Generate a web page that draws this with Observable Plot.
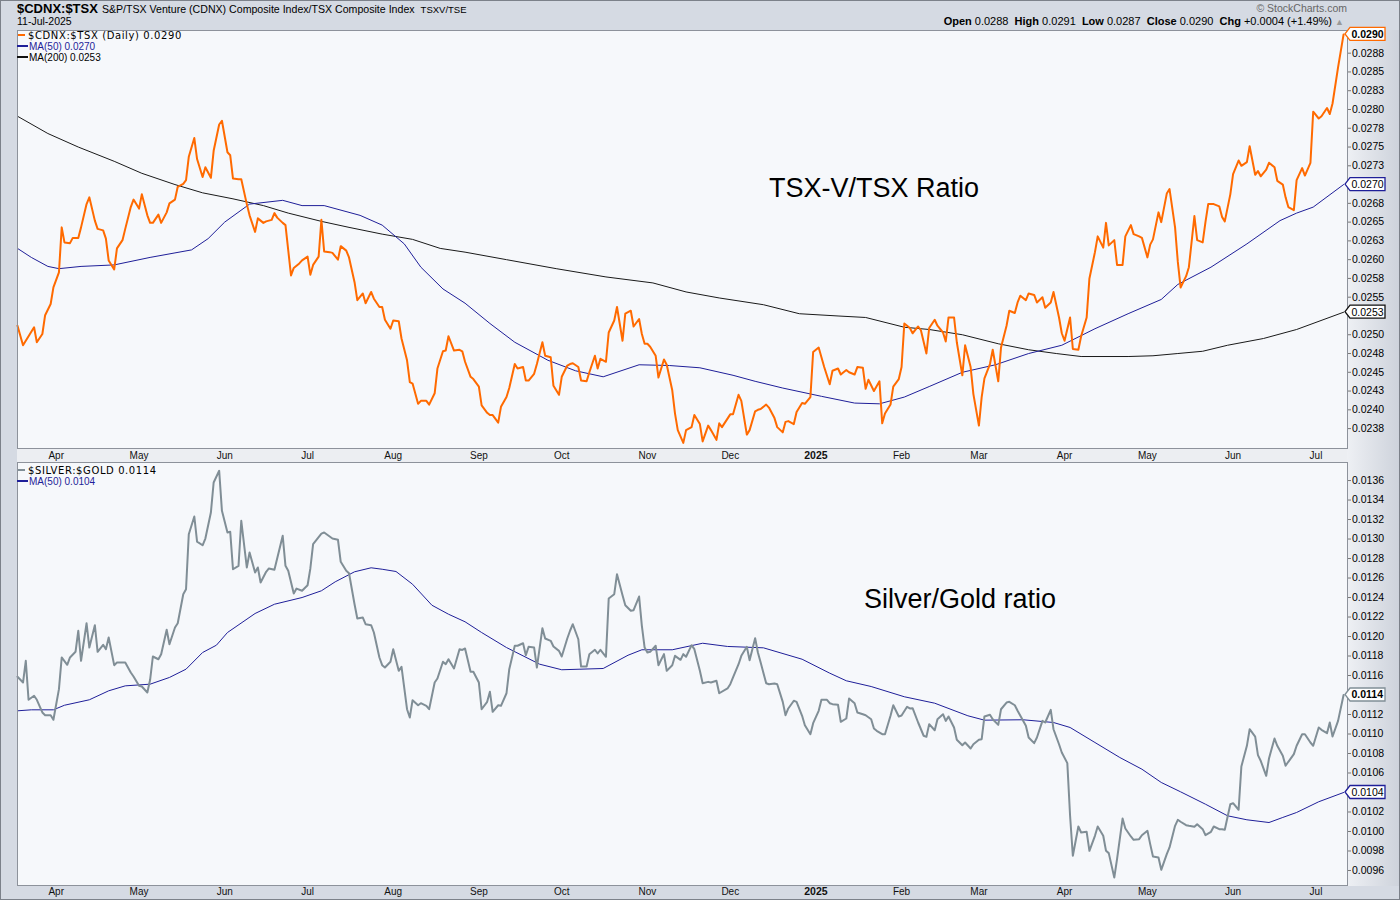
<!DOCTYPE html>
<html><head><meta charset="utf-8">
<script src="https://cdn.jsdelivr.net/npm/d3@7"></script>
<script src="https://cdn.jsdelivr.net/npm/@observablehq/plot@0.6"></script>
<style>
body{margin:0;background:#fff;}
#wrap{position:relative;width:1400px;height:900px;background:#d5dae3;overflow:hidden;font-family:"Liberation Sans",Arial,sans-serif;color:#000;}
.abs{position:absolute;white-space:nowrap;}
.leg{position:absolute;white-space:nowrap;font-size:10px;line-height:11px;}
.dash{display:inline-block;width:8px;height:2px;vertical-align:middle;margin-right:3px;position:relative;top:-1px;}
.anno{position:absolute;white-space:nowrap;font-size:27px;font-family:"Liberation Sans",Arial,sans-serif;color:#000;}
#border{position:absolute;left:0;top:0;width:1400px;height:900px;box-sizing:border-box;border:1px solid #7c818a;pointer-events:none;}
</style></head>
<body><div id="wrap">
<div class="abs" style="left:1347px;top:30px;width:53px;height:856px;background:linear-gradient(to right,#eef0f4,#cdd2db);"></div>
<div class="abs" style="left:17px;top:448px;width:1330px;height:14px;background:#eceef2;"></div>
<div class="abs" style="left:17px;top:1px;font-size:13px;line-height:16px;"><b style="font-size:13px">$CDNX:$TSX</b><span style="font-size:10.6px;margin-left:4px">S&amp;P/TSX Venture (CDNX) Composite Index/TSX Composite Index</span><span style="font-size:9.5px;margin-left:6px">TSXV/TSE</span></div>
<div class="abs" style="left:17px;top:15px;font-size:10.5px;line-height:13px;">11-Jul-2025</div>
<div class="abs" style="right:53px;top:2px;font-size:10.5px;line-height:13px;color:#666;">&#169; StockCharts.com</div>
<div class="abs" style="right:56px;top:15px;font-size:11px;line-height:13px;"><b>Open</b> 0.0288&nbsp; <b>High</b> 0.0291&nbsp; <b>Low</b> 0.0287&nbsp; <b>Close</b> 0.0290&nbsp; <b>Chg</b> +0.0004 (+1.49%) <span style="color:#999;font-size:9px">&#9650;</span></div>
<div id="c1" class="abs" style="left:0;top:30px;"></div>
<div id="c2" class="abs" style="left:0;top:462px;"></div>
<div class="leg" style="left:18px;top:30px;font-family:'DejaVu Sans',sans-serif;letter-spacing:0.6px;"><span class="dash" style="background:#ff6a00;width:7px"></span>$CDNX:$TSX (Daily) 0.0290</div>
<div class="leg" style="left:17px;top:41px;color:#1f1f99;"><span class="dash" style="background:#1f1f99;width:11px;margin-right:1px"></span>MA(50) 0.0270</div>
<div class="leg" style="left:17px;top:52px;"><span class="dash" style="background:#111;width:11px;margin-right:1px"></span>MA(200) 0.0253</div>
<div class="leg" style="left:18px;top:465px;font-family:'DejaVu Sans',sans-serif;letter-spacing:0.6px;"><span class="dash" style="background:#808e96;width:7px"></span>$SILVER:$GOLD 0.0114</div>
<div class="leg" style="left:17px;top:476px;color:#1f1f99;"><span class="dash" style="background:#1f1f99;width:11px;margin-right:1px"></span>MA(50) 0.0104</div>
<div class="anno" style="left:769px;top:173px;">TSX-V/TSX Ratio</div>
<div class="anno" style="left:864px;top:584px;">Silver/Gold ratio</div>
<div id="border"></div>
</div>
<script>
// ---------- DATA ----------
const xStart = "2024-03-18";
const xEnd = "2025-07-12T10:00:00Z";

const monthTickDates = ["2024-04-01","2024-05-01","2024-06-01","2024-07-01","2024-08-01","2024-09-01","2024-10-01","2024-11-01","2024-12-01","2025-01-01","2025-02-01","2025-03-01","2025-04-01","2025-05-01","2025-06-01","2025-07-01"];
const monthTickLabels = ["Apr","May","Jun","Jul","Aug","Sep","Oct","Nov","Dec","2025","Feb","Mar","Apr","May","Jun","Jul"];

const topTickValues = [0.02375,0.024,0.02425,0.0245,0.02475,0.025,0.02525,0.0255,0.02575,0.026,0.02625,0.0265,0.02675,0.027,0.02725,0.0275,0.02775,0.028,0.02825,0.0285,0.02875];
const topTickLabels = ["0.0238","0.0240","0.0243","0.0245","0.0248","0.0250","0.0253","0.0255","0.0258","0.0260","0.0263","0.0265","0.0268","0.0270","0.0273","0.0275","0.0278","0.0280","0.0283","0.0285","0.0288"];
const topDomain = [0.023485, 0.029052];

const botTickValues = [0.0096,0.0098,0.0100,0.0102,0.0104,0.0106,0.0108,0.0110,0.0112,0.0114,0.0116,0.0118,0.0120,0.0122,0.0124,0.0126,0.0128,0.0130,0.0132,0.0134,0.0136];
const botTickLabels = ["0.0096","0.0098","0.0100","0.0102","0.0104","0.0106","0.0108","0.0110","0.0112","0.0114","0.0116","0.0118","0.0120","0.0122","0.0124","0.0126","0.0128","0.0130","0.0132","0.0134","0.0136"];
const botDomain = [0.009446, 0.013785];

// $CDNX:$TSX daily ratio
const tsxRatio = [
["2024-03-18",0.02512],["2024-03-20",0.02486],["2024-03-24",0.02510],["2024-03-25",0.02490],["2024-03-27",0.02501],["2024-03-28",0.02526],["2024-03-30",0.02541],["2024-03-31",0.02563],
["2024-04-02",0.02583],["2024-04-03",0.02643],["2024-04-04",0.02623],["2024-04-06",0.02622],["2024-04-07",0.02629],["2024-04-09",0.02629],["2024-04-10",0.02643],["2024-04-12",0.02674],["2024-04-13",0.02683],["2024-04-15",0.02652],["2024-04-16",0.02641],["2024-04-18",0.02639],["2024-04-19",0.02628],["2024-04-20",0.02599],["2024-04-22",0.02587],["2024-04-23",0.02615],["2024-04-25",0.02626],["2024-04-26",0.02641],["2024-04-28",0.02670],["2024-04-29",0.02680],
["2024-05-01",0.02668],["2024-05-02",0.02687],["2024-05-04",0.02659],["2024-05-05",0.02649],["2024-05-06",0.02649],["2024-05-08",0.02660],["2024-05-09",0.02649],["2024-05-11",0.02663],["2024-05-12",0.02675],["2024-05-14",0.02680],["2024-05-15",0.02697],["2024-05-17",0.02701],["2024-05-18",0.02706],["2024-05-19",0.02737],["2024-05-21",0.02762],["2024-05-22",0.02734],["2024-05-24",0.02710],["2024-05-25",0.02723],["2024-05-27",0.02709],["2024-05-28",0.02745],["2024-05-30",0.02780],["2024-05-31",0.02785],
["2024-06-02",0.02743],["2024-06-03",0.02739],["2024-06-04",0.02708],["2024-06-06",0.02707],["2024-06-07",0.02707],["2024-06-09",0.02674],["2024-06-10",0.02659],["2024-06-12",0.02637],["2024-06-13",0.02655],["2024-06-15",0.02649],["2024-06-16",0.02651],["2024-06-18",0.02653],["2024-06-19",0.02662],["2024-06-20",0.02656],["2024-06-22",0.02649],["2024-06-23",0.02646],["2024-06-25",0.02579],["2024-06-26",0.02589],["2024-06-28",0.02595],["2024-06-29",0.02599],
["2024-07-01",0.02604],["2024-07-02",0.02580],["2024-07-03",0.02593],["2024-07-05",0.02604],["2024-07-06",0.02653],["2024-07-07",0.02611],["2024-07-09",0.02610],["2024-07-10",0.02609],["2024-07-12",0.02600],["2024-07-13",0.02618],["2024-07-15",0.02612],["2024-07-16",0.02603],["2024-07-18",0.02570],["2024-07-19",0.02546],["2024-07-21",0.02555],["2024-07-22",0.02542],["2024-07-24",0.02557],["2024-07-25",0.02548],["2024-07-27",0.02537],["2024-07-28",0.02537],["2024-07-29",0.02520],["2024-07-31",0.02508],
["2024-08-01",0.02519],["2024-08-03",0.02518],["2024-08-04",0.02495],["2024-08-06",0.02466],["2024-08-07",0.02437],["2024-08-08",0.02435],["2024-08-10",0.02408],["2024-08-11",0.02412],["2024-08-13",0.02412],["2024-08-14",0.02407],["2024-08-16",0.02422],["2024-08-17",0.02455],["2024-08-19",0.02478],["2024-08-20",0.02479],["2024-08-21",0.02498],["2024-08-23",0.02479],["2024-08-25",0.02480],["2024-08-26",0.02478],["2024-08-27",0.02464],["2024-08-29",0.02444],["2024-08-30",0.02441],
["2024-09-01",0.02431],["2024-09-02",0.02406],["2024-09-04",0.02396],["2024-09-05",0.02393],["2024-09-06",0.02393],["2024-09-08",0.02383],["2024-09-09",0.02404],["2024-09-11",0.02417],["2024-09-12",0.02429],["2024-09-14",0.02461],["2024-09-15",0.02455],["2024-09-17",0.02457],["2024-09-18",0.02439],["2024-09-19",0.02439],["2024-09-21",0.02448],["2024-09-22",0.02461],["2024-09-24",0.02490],["2024-09-25",0.02472],["2024-09-27",0.02470],["2024-09-28",0.02432],["2024-09-30",0.02420],
["2024-10-01",0.02444],["2024-10-03",0.02459],["2024-10-04",0.02461],["2024-10-05",0.02462],["2024-10-07",0.02457],["2024-10-08",0.02439],["2024-10-10",0.02438],["2024-10-11",0.02450],["2024-10-13",0.02472],["2024-10-14",0.02455],["2024-10-15",0.02468],["2024-10-17",0.02464],["2024-10-18",0.02503],["2024-10-20",0.02519],["2024-10-21",0.02537],["2024-10-23",0.02492],["2024-10-24",0.02528],["2024-10-26",0.02532],["2024-10-27",0.02511],["2024-10-29",0.02521],["2024-10-30",0.02501],["2024-10-31",0.02488],
["2024-11-01",0.02488],["2024-11-02",0.02484],["2024-11-04",0.02472],["2024-11-05",0.02443],["2024-11-07",0.02467],["2024-11-08",0.02460],["2024-11-10",0.02426],["2024-11-11",0.02395],["2024-11-12",0.02373],["2024-11-14",0.02356],["2024-11-15",0.02373],["2024-11-17",0.02377],["2024-11-18",0.02393],["2024-11-20",0.02381],["2024-11-21",0.02358],["2024-11-23",0.02379],["2024-11-24",0.02373],["2024-11-26",0.02360],["2024-11-27",0.02382],["2024-11-28",0.02377],
["2024-12-01",0.02394],["2024-12-02",0.02394],["2024-12-04",0.02420],["2024-12-05",0.02412],["2024-12-07",0.02367],["2024-12-08",0.02373],["2024-12-10",0.02398],["2024-12-11",0.02400],["2024-12-12",0.02401],["2024-12-14",0.02407],["2024-12-15",0.02403],["2024-12-17",0.02389],["2024-12-18",0.02377],["2024-12-20",0.02370],["2024-12-21",0.02384],["2024-12-22",0.02385],["2024-12-24",0.02381],["2024-12-25",0.02397],["2024-12-27",0.02409],["2024-12-28",0.02408],["2024-12-30",0.02417],["2024-12-31",0.02477],
["2025-01-02",0.02483],["2025-01-03",0.02470],["2025-01-04",0.02457],["2025-01-06",0.02434],["2025-01-07",0.02452],["2025-01-09",0.02455],["2025-01-10",0.02447],["2025-01-12",0.02453],["2025-01-13",0.02450],["2025-01-15",0.02447],["2025-01-16",0.02457],["2025-01-18",0.02456],["2025-01-19",0.02428],["2025-01-20",0.02440],["2025-01-22",0.02425],["2025-01-24",0.02438],["2025-01-25",0.02382],["2025-01-26",0.02395],["2025-01-28",0.02407],["2025-01-29",0.02431],["2025-01-31",0.02441],
["2025-02-01",0.02457],["2025-02-02",0.02515],["2025-02-04",0.02509],["2025-02-05",0.02502],["2025-02-07",0.02511],["2025-02-08",0.02506],["2025-02-10",0.02475],["2025-02-11",0.02509],["2025-02-13",0.02520],["2025-02-14",0.02512],["2025-02-16",0.02503],["2025-02-17",0.02491],["2025-02-18",0.02523],["2025-02-20",0.02523],["2025-02-21",0.02490],["2025-02-23",0.02446],["2025-02-24",0.02486],["2025-02-26",0.02457],["2025-02-27",0.02421],
["2025-03-01",0.02379],["2025-03-02",0.02417],["2025-03-03",0.02442],["2025-03-05",0.02461],["2025-03-06",0.02480],["2025-03-08",0.02438],["2025-03-09",0.02483],["2025-03-11",0.02512],["2025-03-12",0.02532],["2025-03-14",0.02529],["2025-03-15",0.02543],["2025-03-16",0.02552],["2025-03-18",0.02546],["2025-03-19",0.02555],["2025-03-21",0.02553],["2025-03-22",0.02543],["2025-03-24",0.02550],["2025-03-25",0.02536],["2025-03-27",0.02543],["2025-03-28",0.02557],["2025-03-30",0.02523],["2025-03-31",0.02502],
["2025-04-01",0.02492],["2025-04-03",0.02523],["2025-04-04",0.02481],["2025-04-06",0.02480],["2025-04-07",0.02498],["2025-04-09",0.02523],["2025-04-10",0.02575],["2025-04-12",0.02610],["2025-04-13",0.02631],["2025-04-15",0.02616],["2025-04-16",0.02649],["2025-04-17",0.02619],["2025-04-19",0.02626],["2025-04-20",0.02593],["2025-04-22",0.02593],["2025-04-23",0.02631],["2025-04-25",0.02646],["2025-04-26",0.02634],["2025-04-28",0.02631],["2025-04-29",0.02629],
["2025-05-01",0.02603],["2025-05-02",0.02620],["2025-05-03",0.02627],["2025-05-05",0.02663],["2025-05-06",0.02650],["2025-05-08",0.02688],["2025-05-09",0.02694],["2025-05-11",0.02643],["2025-05-12",0.02597],["2025-05-13",0.02563],["2025-05-15",0.02578],["2025-05-16",0.02590],["2025-05-18",0.02658],["2025-05-19",0.02626],["2025-05-21",0.02623],["2025-05-22",0.02650],["2025-05-23",0.02674],["2025-05-25",0.02674],["2025-05-27",0.02671],["2025-05-28",0.02657],["2025-05-29",0.02651],["2025-05-31",0.02687],
["2025-06-01",0.02714],["2025-06-03",0.02732],["2025-06-04",0.02725],["2025-06-06",0.02730],["2025-06-07",0.02751],["2025-06-09",0.02713],["2025-06-10",0.02718],["2025-06-11",0.02711],["2025-06-13",0.02720],["2025-06-14",0.02729],["2025-06-16",0.02723],["2025-06-17",0.02705],["2025-06-19",0.02700],["2025-06-20",0.02683],["2025-06-21",0.02670],["2025-06-23",0.02666],["2025-06-24",0.02706],["2025-06-26",0.02722],["2025-06-27",0.02712],["2025-06-29",0.02729],["2025-06-30",0.02797],
["2025-07-02",0.02788],["2025-07-03",0.02791],["2025-07-05",0.02802],["2025-07-06",0.02794],["2025-07-07",0.02808],["2025-07-09",0.02856],["2025-07-11",0.02900]
];

const tsxMA50 = [
["2024-03-18",0.02615],["2024-03-23",0.02603],["2024-03-29",0.02591],["2024-04-02",0.02588],["2024-04-10",0.02591],["2024-04-22",0.02593],["2024-05-05",0.02603],["2024-05-14",0.02609],["2024-05-20",0.02613],["2024-05-26",0.02628],["2024-06-01",0.02650],["2024-06-10",0.02674],["2024-06-22",0.02679],["2024-06-29",0.02672],["2024-07-07",0.02672],["2024-07-20",0.02659],["2024-07-28",0.02646],["2024-08-05",0.02621],["2024-08-11",0.02590],["2024-08-19",0.02561],["2024-08-27",0.02542],["2024-09-05",0.02515],["2024-09-14",0.02490],["2024-09-26",0.02466],["2024-10-06",0.02452],["2024-10-16",0.02444],["2024-10-29",0.02460],["2024-11-09",0.02459],["2024-11-20",0.02456],["2024-12-02",0.02446],["2024-12-10",0.02438],["2024-12-20",0.02429],["2025-01-03",0.02418],["2025-01-15",0.02409],["2025-01-24",0.02408],["2025-02-02",0.02417],["2025-02-11",0.02431],["2025-02-23",0.02450],["2025-03-07",0.02460],["2025-03-19",0.02475],["2025-03-31",0.02486],["2025-04-12",0.02508],["2025-04-24",0.02528],["2025-05-06",0.02547],["2025-05-12",0.02567],["2025-05-24",0.02590],["2025-06-06",0.02621],["2025-06-18",0.02652],["2025-06-24",0.02662],["2025-06-30",0.02670],["2025-07-11",0.02700]
];

const tsxMA200 = [
["2024-03-18",0.02791],["2024-03-29",0.02768],["2024-04-09",0.02750],["2024-04-22",0.02731],["2024-05-02",0.02715],["2024-05-14",0.02700],["2024-05-24",0.02689],["2024-06-04",0.02681],["2024-06-15",0.02672],["2024-06-24",0.02662],["2024-07-06",0.02651],["2024-07-16",0.02643],["2024-07-28",0.02634],["2024-08-08",0.02627],["2024-08-18",0.02615],["2024-08-27",0.02610],["2024-09-11",0.02600],["2024-09-29",0.02588],["2024-10-17",0.02577],["2024-11-03",0.02569],["2024-11-15",0.02557],["2024-11-27",0.02549],["2024-12-13",0.02540],["2024-12-26",0.02528],["2025-01-09",0.02525],["2025-01-19",0.02523],["2025-02-02",0.02510],["2025-02-11",0.02507],["2025-02-23",0.02500],["2025-03-08",0.02488],["2025-03-19",0.02480],["2025-03-29",0.02475],["2025-04-07",0.02471],["2025-04-24",0.02471],["2025-05-03",0.02472],["2025-05-12",0.02475],["2025-05-21",0.02478],["2025-05-30",0.02486],["2025-06-12",0.02495],["2025-06-24",0.02507],["2025-07-11",0.02530]
];

// $SILVER:$GOLD
const silverGold = [
["2024-03-18",0.011587],["2024-03-20",0.011528],["2024-03-21",0.011751],["2024-03-22",0.011351],["2024-03-24",0.011392],["2024-03-25",0.011351],["2024-03-27",0.011221],["2024-03-28",0.011193],["2024-03-30",0.011193],["2024-03-31",0.011146],
["2024-04-02",0.011460],["2024-04-03",0.011785],["2024-04-05",0.011710],["2024-04-06",0.011785],["2024-04-08",0.011843],["2024-04-09",0.012059],["2024-04-10",0.011751],["2024-04-12",0.012136],["2024-04-13",0.011887],["2024-04-15",0.012116],["2024-04-16",0.011843],["2024-04-18",0.011915],["2024-04-19",0.011870],["2024-04-20",0.011990],["2024-04-22",0.011706],["2024-04-23",0.011733],["2024-04-26",0.011733],["2024-04-28",0.011631],["2024-04-29",0.011590],
["2024-05-01",0.011494],["2024-05-02",0.011487],["2024-05-04",0.011426],["2024-05-05",0.011556],["2024-05-06",0.011795],["2024-05-08",0.011767],["2024-05-09",0.011819],["2024-05-11",0.012069],["2024-05-12",0.011921],["2024-05-14",0.012092],["2024-05-15",0.012136],["2024-05-17",0.012434],["2024-05-18",0.012485],["2024-05-19",0.013049],["2024-05-21",0.013231],["2024-05-22",0.012974],["2024-05-24",0.012936],["2024-05-25",0.013005],["2024-05-27",0.013272],["2024-05-28",0.013580],["2024-05-30",0.013700],["2024-05-31",0.013289],
["2024-06-02",0.013067],["2024-06-03",0.013074],["2024-06-04",0.012690],["2024-06-06",0.012725],["2024-06-07",0.013187],["2024-06-09",0.012708],["2024-06-10",0.012862],["2024-06-12",0.012656],["2024-06-13",0.012708],["2024-06-14",0.012554],["2024-06-16",0.012664],["2024-06-17",0.012698],["2024-06-19",0.012684],["2024-06-22",0.013033],["2024-06-23",0.012725],["2024-06-24",0.012674],["2024-06-26",0.012441],["2024-06-27",0.012492],["2024-06-29",0.012469],
["2024-07-01",0.012526],["2024-07-02",0.012698],["2024-07-03",0.012947],["2024-07-06",0.013056],["2024-07-07",0.013067],["2024-07-09",0.013026],["2024-07-10",0.013005],["2024-07-12",0.012992],["2024-07-13",0.012766],["2024-07-15",0.012674],["2024-07-16",0.012649],["2024-07-18",0.012331],["2024-07-19",0.012185],["2024-07-21",0.012195],["2024-07-22",0.012126],["2024-07-24",0.012116],["2024-07-25",0.012041],["2024-07-27",0.011785],["2024-07-28",0.011706],["2024-07-29",0.011682],["2024-07-31",0.011741],
["2024-08-01",0.011870],["2024-08-03",0.011648],["2024-08-04",0.011689],["2024-08-06",0.011254],["2024-08-07",0.011169],["2024-08-08",0.011347],["2024-08-10",0.011295],["2024-08-11",0.011316],["2024-08-13",0.011289],["2024-08-14",0.011254],["2024-08-16",0.011528],["2024-08-17",0.011569],["2024-08-19",0.011741],["2024-08-20",0.011716],["2024-08-21",0.011767],["2024-08-23",0.011672],["2024-08-25",0.011870],["2024-08-26",0.011862],["2024-08-27",0.011877],["2024-08-29",0.011638],["2024-08-30",0.011638],
["2024-09-01",0.011528],["2024-09-02",0.011254],["2024-09-04",0.011330],["2024-09-05",0.011433],["2024-09-06",0.011228],["2024-09-08",0.011295],["2024-09-09",0.011289],["2024-09-11",0.011418],["2024-09-12",0.011665],["2024-09-14",0.011905],["2024-09-15",0.011905],["2024-09-17",0.011931],["2024-09-18",0.011808],["2024-09-19",0.011894],["2024-09-21",0.011887],["2024-09-22",0.011682],["2024-09-24",0.012085],["2024-09-25",0.011980],["2024-09-27",0.011956],["2024-09-28",0.011898],["2024-09-30",0.011853],
["2024-10-01",0.011795],["2024-10-03",0.011980],["2024-10-04",0.012059],["2024-10-05",0.012126],["2024-10-07",0.011972],["2024-10-08",0.011692],["2024-10-10",0.011692],["2024-10-11",0.011819],["2024-10-13",0.011864],["2024-10-14",0.011826],["2024-10-15",0.011864],["2024-10-17",0.011792],["2024-10-18",0.012390],["2024-10-20",0.012434],["2024-10-21",0.012639],["2024-10-23",0.012424],["2024-10-24",0.012321],["2024-10-26",0.012264],["2024-10-27",0.012270],["2024-10-29",0.012410],["2024-10-30",0.012110],["2024-10-31",0.011887],
["2024-11-01",0.011836],["2024-11-02",0.011843],["2024-11-04",0.011905],["2024-11-05",0.011706],["2024-11-07",0.011819],["2024-11-08",0.011648],["2024-11-10",0.011706],["2024-11-11",0.011802],["2024-11-13",0.011761],["2024-11-14",0.011819],["2024-11-15",0.011792],["2024-11-17",0.011911],["2024-11-18",0.011870],["2024-11-20",0.011648],["2024-11-21",0.011521],["2024-11-23",0.011535],["2024-11-24",0.011528],["2024-11-26",0.011546],["2024-11-27",0.011418],["2024-11-30",0.011467],
["2024-12-01",0.011511],["2024-12-02",0.011580],["2024-12-04",0.011716],["2024-12-05",0.011802],["2024-12-07",0.011894],["2024-12-08",0.011757],["2024-12-10",0.011983],["2024-12-11",0.011836],["2024-12-12",0.011733],["2024-12-14",0.011521],["2024-12-15",0.011511],["2024-12-17",0.011518],["2024-12-18",0.011511],["2024-12-20",0.011330],["2024-12-21",0.011193],["2024-12-22",0.011262],["2024-12-24",0.011341],["2024-12-25",0.011330],["2024-12-27",0.011187],["2024-12-28",0.011090],["2024-12-30",0.010998],["2024-12-31",0.011111],
["2025-01-02",0.011238],["2025-01-03",0.011351],["2025-01-05",0.011351],["2025-01-06",0.011316],["2025-01-07",0.011306],["2025-01-09",0.011300],["2025-01-10",0.011125],["2025-01-12",0.011159],["2025-01-13",0.011364],["2025-01-15",0.011316],["2025-01-16",0.011221],["2025-01-18",0.011203],["2025-01-19",0.011193],["2025-01-21",0.011152],["2025-01-22",0.011056],["2025-01-23",0.011033],["2025-01-25",0.010998],["2025-01-26",0.010998],["2025-01-28",0.011187],["2025-01-29",0.011295],["2025-01-31",0.011180],
["2025-02-01",0.011190],["2025-02-03",0.011279],["2025-02-04",0.011262],["2025-02-05",0.011265],["2025-02-07",0.011118],["2025-02-09",0.010982],["2025-02-10",0.010971],["2025-02-11",0.011101],["2025-02-13",0.011039],["2025-02-14",0.011152],["2025-02-16",0.011203],["2025-02-17",0.011135],["2025-02-18",0.011180],["2025-02-20",0.011067],["2025-02-21",0.010941],["2025-02-23",0.010885],["2025-02-24",0.010913],["2025-02-26",0.010851],["2025-02-27",0.010895],
["2025-03-01",0.010941],["2025-03-02",0.010947],["2025-03-03",0.011180],["2025-03-05",0.011197],["2025-03-06",0.011152],["2025-03-08",0.011094],["2025-03-09",0.011254],["2025-03-11",0.011323],["2025-03-12",0.011330],["2025-03-14",0.011295],["2025-03-15",0.011238],["2025-03-16",0.011187],["2025-03-18",0.011084],["2025-03-19",0.010964],["2025-03-21",0.010906],["2025-03-22",0.010964],["2025-03-24",0.011135],["2025-03-25",0.011118],["2025-03-27",0.011248],["2025-03-28",0.011049],["2025-03-30",0.010895],["2025-03-31",0.010810],
["2025-04-02",0.010701],["2025-04-03",0.010161],["2025-04-04",0.009751],["2025-04-06",0.010051],["2025-04-07",0.009990],["2025-04-09",0.009997],["2025-04-10",0.009802],["2025-04-12",0.009956],["2025-04-13",0.010051],["2025-04-15",0.009956],["2025-04-16",0.009802],["2025-04-17",0.009778],["2025-04-19",0.009528],["2025-04-20",0.009716],["2025-04-22",0.010133],["2025-04-23",0.010031],["2025-04-25",0.009949],["2025-04-26",0.009915],["2025-04-28",0.009921],["2025-04-29",0.009962],
["2025-05-01",0.010007],["2025-05-02",0.009870],["2025-05-03",0.009744],["2025-05-05",0.009733],["2025-05-06",0.009607],["2025-05-08",0.009767],["2025-05-09",0.009836],["2025-05-11",0.010058],["2025-05-12",0.010120],["2025-05-13",0.010100],["2025-05-15",0.010065],["2025-05-16",0.010058],["2025-05-18",0.010048],["2025-05-19",0.010075],["2025-05-21",0.010024],["2025-05-22",0.009962],["2025-05-24",0.009997],["2025-05-25",0.010051],["2025-05-27",0.010024],["2025-05-28",0.010024],["2025-05-29",0.010018],["2025-05-31",0.010280],
["2025-06-01",0.010290],["2025-06-03",0.010223],["2025-06-04",0.010667],["2025-06-06",0.010879],["2025-06-07",0.011049],["2025-06-09",0.010974],["2025-06-10",0.010783],["2025-06-11",0.010725],["2025-06-13",0.010571],["2025-06-14",0.010749],["2025-06-16",0.010954],["2025-06-17",0.010879],["2025-06-19",0.010776],["2025-06-20",0.010674],["2025-06-21",0.010715],["2025-06-23",0.010793],["2025-06-24",0.010879],["2025-06-26",0.010998],["2025-06-27",0.010998],["2025-06-29",0.010913],["2025-06-30",0.010879],
["2025-07-02",0.011067],["2025-07-03",0.011043],["2025-07-05",0.011008],["2025-07-06",0.011118],["2025-07-07",0.010974],["2025-07-09",0.011135],["2025-07-11",0.011400]
];

const silverMA50 = [
["2024-03-18",0.011238],["2024-03-23",0.011248],["2024-03-31",0.011248],["2024-04-04",0.011295],["2024-04-13",0.011351],["2024-04-20",0.011443],["2024-04-26",0.011494],["2024-05-05",0.011511],["2024-05-12",0.011580],["2024-05-18",0.011665],["2024-05-24",0.011836],["2024-05-29",0.011911],["2024-06-02",0.012041],["2024-06-12",0.012236],["2024-06-19",0.012331],["2024-06-29",0.012400],["2024-07-06",0.012469],["2024-07-11",0.012561],["2024-07-18",0.012664],["2024-07-24",0.012705],["2024-07-28",0.012690],["2024-08-02",0.012667],["2024-08-08",0.012536],["2024-08-15",0.012321],["2024-08-21",0.012229],["2024-08-27",0.012151],["2024-09-02",0.012041],["2024-09-11",0.011887],["2024-09-23",0.011716],["2024-10-01",0.011659],["2024-10-16",0.011672],["2024-10-25",0.011808],["2024-10-30",0.011864],["2024-11-10",0.011864],["2024-11-21",0.011931],["2024-11-30",0.011898],["2024-12-13",0.011884],["2024-12-27",0.011767],["2025-01-06",0.011624],["2025-01-12",0.011546],["2025-01-21",0.011487],["2025-02-02",0.011382],["2025-02-13",0.011316],["2025-02-25",0.011187],["2025-03-03",0.011142],["2025-03-17",0.011146],["2025-03-28",0.011118],["2025-04-03",0.011067],["2025-04-12",0.010913],["2025-04-21",0.010759],["2025-04-29",0.010639],["2025-05-06",0.010503],["2025-05-13",0.010407],["2025-05-22",0.010280],["2025-05-30",0.010161],["2025-06-06",0.010120],["2025-06-14",0.010092],["2025-06-19",0.010144],["2025-06-24",0.010195],["2025-07-02",0.010305],["2025-07-11",0.010400]
];

const topBadges = [
  {value: 0.0290, label: "0.0290", color: "#ff6a00", bold: true},
  {value: 0.0270, label: "0.0270", color: "#1f1f99", bold: false},
  {value: 0.0253, label: "0.0253", color: "#111111", bold: false}
];
const botBadges = [
  {value: 0.0114, label: "0.0114", color: "#808e96", bold: true},
  {value: 0.0104, label: "0.0104", color: "#1f1f99", bold: false}
];

// ---------- DRAWING ----------
const W = 1400, ML = 17, MR = 53;
const X = d => new Date(d[0]);
const Y = d => d[1];
const months = monthTickDates.map((d, i) => ({date: new Date(d), label: monthTickLabels[i]}));
const monthsNormal = months.filter(m => !/^\d{4}$/.test(m.label));
const monthsBold = months.filter(m => /^\d{4}$/.test(m.label));
const xScale = {type: "utc", domain: [new Date(xStart), new Date(xEnd)], axis: null};
const baseStyle = {fontFamily: "'Liberation Sans', Arial, sans-serif", fontSize: "10.5px", background: "transparent", color: "#000", overflow: "visible"};

function monthMarks(dy) {
  return [
    Plot.text(monthsNormal, {x: "date", text: "label", frameAnchor: "bottom", lineAnchor: "top", dy, fontSize: 10, fill: "#111"}),
    Plot.text(monthsBold, {x: "date", text: "label", frameAnchor: "bottom", lineAnchor: "top", dy, fontSize: 10.5, fontWeight: "bold", fill: "#111"})
  ];
}

// tick labels hidden under a value badge are left blank (the badge shows the same number)
function tickFormatter(values, labels, badges) {
  const covered = new Set(badges.map(b => b.label));
  const m = new Map(values.map((v, i) => [v, labels[i]]));
  return d => { const s = m.get(d); return covered.has(s) ? "" : s; };
}

function addBadges(svg, items) {
  const ys = svg.scale("y");
  const g = d3.select(svg).append("g").attr("text-anchor", "start");
  const x0 = W - MR;
  for (const b of items) {
    const cy = ys.apply(b.value);
    g.append("path")
      .attr("d", `M${x0 - 2},${cy} L${x0 + 3},${cy - 6.5} H${x0 + 38} V${cy + 6.5} H${x0 + 3} Z`)
      .attr("fill", "#fff").attr("stroke", b.color).attr("stroke-width", 1.3);
    g.append("text").attr("x", x0 + 4.5).attr("y", cy).attr("dy", "0.36em")
      .attr("text-anchor", "start")
      .attr("font-size", 10.5).attr("font-weight", b.bold ? "bold" : "normal")
      .attr("font-family", "'Liberation Sans', Arial, sans-serif").attr("fill", "#000")
      .text(b.label);
  }
}

const topChart = Plot.plot({
  width: W, height: 432,
  marginLeft: ML, marginRight: MR, marginTop: 0, marginBottom: 14,
  x: xScale,
  y: {domain: topDomain},
  style: baseStyle,
  marks: [
    Plot.frame({fill: "#f6f8fb", stroke: null}),
    Plot.axisY({anchor: "right", ticks: topTickValues, tickFormat: tickFormatter(topTickValues, topTickLabels, topBadges), tickSize: 3, tickPadding: 1.5, fontSize: 10.5, stroke: "#777"}),
    ...monthMarks(3),
    Plot.line(tsxMA200, {x: X, y: Y, stroke: "#1a1a1a", strokeWidth: 1}),
    Plot.line(tsxMA50, {x: X, y: Y, stroke: "#1f1f99", strokeWidth: 1}),
    Plot.line(tsxRatio, {x: X, y: Y, stroke: "#ff6a00", strokeWidth: 2}),
    Plot.frame({stroke: "#8d929b"})
  ]
});
document.getElementById("c1").append(topChart);
addBadges(topChart, topBadges);

const botChart = Plot.plot({
  width: W, height: 437,
  marginLeft: ML, marginRight: MR, marginTop: 0, marginBottom: 14,
  x: xScale,
  y: {domain: botDomain},
  style: baseStyle,
  marks: [
    Plot.frame({fill: "#f6f8fb", stroke: null}),
    Plot.axisY({anchor: "right", ticks: botTickValues, tickFormat: tickFormatter(botTickValues, botTickLabels, botBadges), tickSize: 3, tickPadding: 1.5, fontSize: 10.5, stroke: "#777"}),
    ...monthMarks(2),
    Plot.line(silverMA50, {x: X, y: Y, stroke: "#1f1f99", strokeWidth: 1}),
    Plot.line(silverGold, {x: X, y: Y, stroke: "#808e96", strokeWidth: 2}),
    Plot.frame({stroke: "#8d929b"})
  ]
});
document.getElementById("c2").append(botChart);
addBadges(botChart, botBadges);
</script>
</body></html>
